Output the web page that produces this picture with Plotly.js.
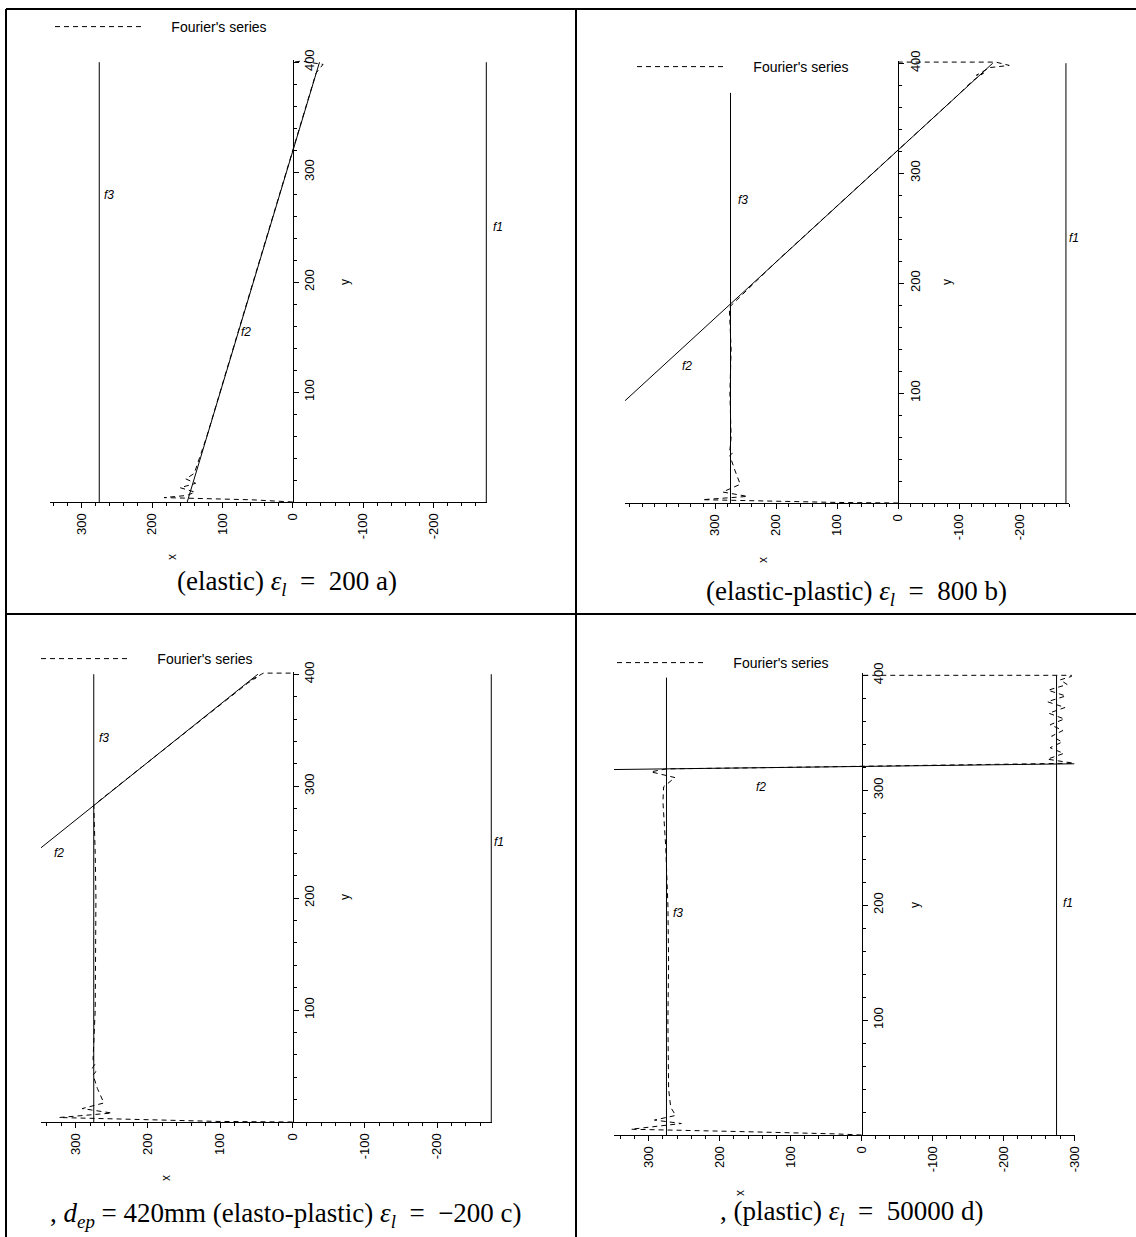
<!DOCTYPE html>
<html>
<head>
<meta charset="utf-8">
<script src="https://cdn.plot.ly/plotly-3.0.1.min.js"></script>
<style>html,body{margin:0;padding:0;background:#fff;}#chart{width:1136px;height:1237px;}</style>
</head>
<body>
<div id="chart"></div>
<script>
// ---------- DATA ----------
// Tick values / labels (shared by all four panels)
const xTickVals = [300, 200, 100, 0, -100, -200];
const xTickText = ["300", "200", "100", "0", "-100", "-200"];
const xTickValsD = [300, 200, 100, 0, -100, -200, -300];
const xTickTextD = ["300", "200", "100", "0", "-100", "-200", "-300"];
const yTickVals = [100, 200, 300, 400];
const yTickText = ["100", "200", "300", "400"];

// Panel a) elastic
const aF1x = [-275, -275], aF1y = [0, 400];
const aF3x = [275, 275],   aF3y = [0, 400];
const aF2x = [150, -38],   aF2y = [0, 400];
const aFourY = [0, 1, 2, 4, 6, 9, 13, 17, 21, 26, 60, 120, 180, 240, 300, 350, 380, 390, 394, 398, 401, 400];
const aFourX = [0, 30, 58, 183, 150, 139, 160, 138, 152, 140, 122, 94, 66, 38, 9, -14, -28, -33, -38, -43, -12, 0];

// Panel b) elastic-plastic
const bF1x = [-275, -275], bF1y = [0, 400];
const bF3x = [275, 275],   bF3y = [0, 373];
const bF2x = [450, -155],  bF2y = [92, 400];
const bFourY = [0, 0.5, 3, 6, 10, 17, 30, 43, 46, 48, 60, 100, 140, 178, 220, 260, 300, 340, 370, 384, 391, 389, 396, 398, 401, 401];
const bFourX = [0, 100, 321, 247, 288, 259, 268, 276, 271, 276, 274, 276, 274, 277, 199, 120, 41, -37, -96, -122, -140, -128, -150, -182, -160, 0];

// Panel c) elasto-plastic, d_ep = 420 mm
const cF1x = [-275, -275], cF1y = [0, 400];
const cF3x = [275, 275],   cF3y = [0, 400];
const cF2x = [348, 48],    cF2y = [245, 400];
const cFourY = [0, 0.5, 4, 8, 12, 17, 30, 42, 45, 48, 52, 56, 100, 150, 200, 240, 283, 300, 340, 380, 392, 397, 395, 400, 401, 401];
const cFourX = [0, 103, 323, 250, 291, 261, 270, 276, 272, 277, 273, 276, 273, 272, 272, 273, 275, 242, 164, 87, 62, 50, 57, 43, 40, 0];

// Panel d) plastic
const dF1x = [-275, -275], dF1y = [0, 400];
const dF3x = [275, 275],   dF3y = [0, 398];
const dF2x = [349, -300],  dF2y = [318, 323];
const dFourY = [0, 1, 3, 5, 10, 13, 17, 24, 40, 100, 150, 200, 250, 274, 290, 303, 311, 316, 318.6, 319.5, 320.7, 321.9, 322.9, 323.5, 327, 332, 337, 342, 347, 352, 357, 362, 367, 372, 377, 382, 387, 392, 396, 399, 400, 400];
const dFourX = [0, 38, 172, 325, 254, 292, 262, 269, 272, 273, 272, 273, 276, 278, 280, 279, 263, 297, 275, 150, 0, -150, -275, -299, -262, -285, -266, -283, -268, -284, -266, -286, -264, -287, -262, -288, -263, -290, -280, -296, -296, 0];

const legendName = "\u00a0\u00a0\u00a0\u00a0\u00a0\u00a0Fourier's series";
const captions = [
  "(elastic) <i>ε<sub>l</sub></i>  =  200 a)",
  "(elastic-plastic) <i>ε<sub>l</sub></i>  =  800 b)",
  ", <i>d<sub>ep</sub></i> = 420mm (elasto-plastic) <i>ε<sub>l</sub></i>  =  −200 c)",
  ", (plastic) <i>ε<sub>l</sub></i>  =  50000 d)"
];

// ---------- LAYOUT HELPERS ----------
const W = 1136, H = 1237;
const fx = p => p / W;
const fy = p => 1 - p / H;
const tickFont = {family: "Liberation Sans Narrow, Liberation Sans, Arial, sans-serif", size: 13, color: "#000"};
const smallFont = {family: "Liberation Sans, Arial, sans-serif", size: 12, color: "#000"};
const capFont = {family: "Liberation Serif, Times New Roman, serif", size: 27, color: "#000"};

function solid(x, y, xa, ya) {
  return {x: x, y: y, xaxis: xa, yaxis: ya, mode: "lines", type: "scatter",
          line: {color: "#000", width: 1}, showlegend: false, hoverinfo: "skip"};
}
function fourier(x, y, xa, ya, leg) {
  return {x: x, y: y, xaxis: xa, yaxis: ya, mode: "lines", type: "scatter", name: legendName,
          line: {color: "#000", width: 1, dash: "5px,4px"}, showlegend: true, legend: leg, hoverinfo: "skip"};
}

const traces = [
  solid(aF1x, aF1y, "x", "y"), solid(aF3x, aF3y, "x", "y"), solid(aF2x, aF2y, "x", "y"),
  fourier(aFourX, aFourY, "x", "y", "legend"),
  solid(bF1x, bF1y, "x2", "y2"), solid(bF3x, bF3y, "x2", "y2"), solid(bF2x, bF2y, "x2", "y2"),
  fourier(bFourX, bFourY, "x2", "y2", "legend2"),
  solid(cF1x, cF1y, "x3", "y3"), solid(cF3x, cF3y, "x3", "y3"), solid(cF2x, cF2y, "x3", "y3"),
  fourier(cFourX, cFourY, "x3", "y3", "legend3"),
  solid(dF1x, dF1y, "x4", "y4"), solid(dF3x, dF3y, "x4", "y4"), solid(dF2x, dF2y, "x4", "y4"),
  fourier(dFourX, dFourY, "x4", "y4", "legend4")
];

function xAxis(pxL, pxR, range, anchor, tv, tt) {
  return {domain: [fx(pxL), fx(pxR)], range: range, anchor: anchor, showgrid: false, zeroline: false,
          showline: true, linecolor: "#000", linewidth: 1, ticks: "outside", ticklen: 5, tickcolor: "#000",
          tickmode: "array", tickvals: tv, ticktext: tt, tickangle: -90, tickfont: tickFont,
          minor: {tickmode: "linear", tick0: 0, dtick: 20, ticks: "outside", ticklen: 3, tickcolor: "#000", showgrid: false},
          fixedrange: true};
}
function yAxis(pxBottom, pxTop, range, pos) {
  return {domain: [fy(pxBottom), fy(pxTop)], range: range, anchor: "free", position: pos, side: "right",
          showgrid: false, zeroline: false, showline: true, linecolor: "#000", linewidth: 1,
          ticks: "outside", ticklen: 5, tickcolor: "#000", tickmode: "array", tickvals: yTickVals, ticktext: yTickText,
          tickangle: -90, tickfont: tickFont,
          minor: {tickmode: "linear", tick0: 0, dtick: 20, ticks: "outside", ticklen: 3, tickcolor: "#000", showgrid: false},
          fixedrange: true};
}

function ann(px, py, text, font, angle) {
  return {xref: "paper", yref: "paper", x: fx(px), y: fy(py), text: text, showarrow: false,
          font: font, textangle: angle || 0, xanchor: "center", yanchor: "middle"};
}
const itFont = {family: "Liberation Sans, Arial, sans-serif", size: 12, color: "#000"};
const annotations = [
  // panel a
  ann(109, 195, "<i>f3</i>", itFont), ann(498, 227, "<i>f1</i>", itFont), ann(246, 332, "<i>f2</i>", itFont),
  ann(345, 282, "y", smallFont, -90), ann(172, 557, "x", smallFont, -90), ann(287, 583, captions[0], capFont),
  // panel b
  ann(743, 200, "<i>f3</i>", itFont), ann(1074, 238, "<i>f1</i>", itFont), ann(687, 366, "<i>f2</i>", itFont),
  ann(947, 282, "y", smallFont, -90), ann(763, 560, "x", smallFont, -90), ann(856, 593, captions[1], capFont),
  // panel c
  ann(104, 738, "<i>f3</i>", itFont), ann(499, 842, "<i>f1</i>", itFont), ann(59, 853, "<i>f2</i>", itFont),
  ann(345, 897, "y", smallFont, -90), ann(166, 1178, "x", smallFont, -90), ann(286, 1215, captions[2], capFont),
  // panel d
  ann(678, 913, "<i>f3</i>", itFont), ann(1068, 903, "<i>f1</i>", itFont), ann(761, 787, "<i>f2</i>", itFont),
  ann(915, 905, "y", smallFont, -90), ann(740, 1193, "x", smallFont, -90), ann(852, 1213, captions[3], capFont)
];

function border(x0, y0, x1, y1) {
  return {type: "line", xref: "paper", yref: "paper", x0: fx(x0), y0: fy(y0), x1: fx(x1), y1: fy(y1),
          line: {color: "#000", width: 2}};
}
const shapes = [
  border(6, 9, 1136, 9), border(6, 9, 6, 1237), border(576, 9, 576, 1237), border(6, 614, 1136, 614)
];

function legendAt(px, py) {
  return {x: fx(px), y: fy(py), xanchor: "left", yanchor: "middle", bgcolor: "rgba(0,0,0,0)",
          borderwidth: 0, itemwidth: 88, font: {family: "Liberation Sans, Arial, sans-serif", size: 14, color: "#000"}};
}

const layout = {
  width: W, height: H, margin: {l: 0, r: 0, t: 0, b: 0},
  paper_bgcolor: "#fff", plot_bgcolor: "rgba(0,0,0,0)", showlegend: true,
  xaxis:  xAxis(50, 487, [345, -276], "y", xTickVals, xTickText),
  yaxis:  yAxis(502, 60, [0, 402], fx(292.8)),
  xaxis2: xAxis(625, 1069, [448, -280], "y2", xTickVals, xTickText),
  yaxis2: yAxis(503, 61, [0, 402], fx(898.2)),
  xaxis3: xAxis(41, 492, [348, -276], "y3", xTickVals, xTickText),
  yaxis3: yAxis(1122, 672, [0, 402], fx(292.5)),
  xaxis4: xAxis(614, 1075, [349, -301], "y4", xTickValsD, xTickTextD),
  yaxis4: yAxis(1135, 673, [0, 402], fx(861.5)),
  legend: legendAt(50, 27),
  legend2: legendAt(632, 67),
  legend3: legendAt(36, 659),
  legend4: legendAt(612, 663),
  annotations: annotations,
  shapes: shapes
};

Plotly.newPlot("chart", traces, layout, {displayModeBar: false, staticPlot: true});
</script>
</body>
</html>
